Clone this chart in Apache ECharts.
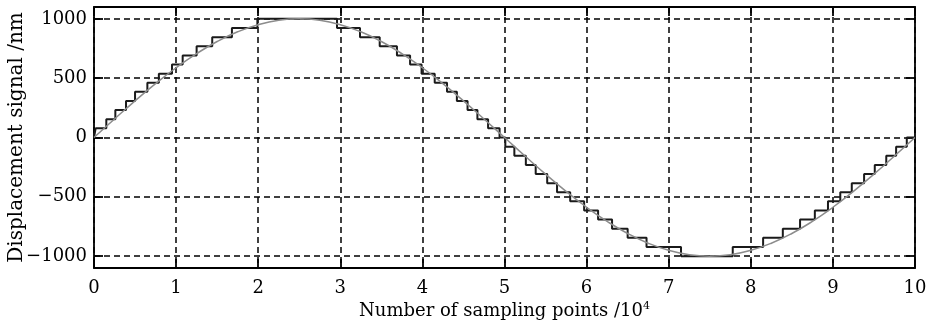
<!DOCTYPE html>
<html>
<head>
<meta charset="utf-8">
<script src="https://cdn.jsdelivr.net/npm/echarts@6/dist/echarts.min.js"></script>
<style>
  html, body { margin: 0; padding: 0; background: #fff; }
  #chart { width: 931px; height: 325px; }
</style>
</head>
<body>
<div id="chart"></div>
<script>
// x positions are in units of 10^4 sampling points
const xTicks = [0, 1, 2, 3, 4, 5, 6, 7, 8, 9, 10];
const yTicks = [-1000, -500, 0, 500, 1000];

// smooth reference signal (gray)
const curveX = [0, 0.25, 0.5, 0.75, 1, 1.25, 1.5, 1.75, 2, 2.25, 2.5, 2.75, 3, 3.25, 3.5, 3.75, 4, 4.25, 4.5, 4.75,
  5, 5.25, 5.5, 5.75, 6, 6.25, 6.5, 6.75, 7, 7.25, 7.5, 7.75, 8, 8.25, 8.5, 8.75, 9, 9.25, 9.5, 9.75, 10];
const curveY = [0, 156, 309, 454, 588, 707, 809, 891, 951, 988, 1000, 988, 951, 891, 809, 707, 588, 454, 309, 156,
  0, -156, -309, -454, -588, -707, -809, -891, -951, -988, -1000, -988, -951, -891, -809, -707, -588, -454, -309, -156, 0];

// quantised staircase (black): level holds from stepX[i] to stepX[i+1]
const stepX = [0, 0.02, 0.15, 0.26, 0.39, 0.50, 0.65, 0.79, 0.95, 1.08, 1.25, 1.44, 1.68, 1.99,
  2.96, 3.24, 3.48, 3.69, 3.85, 3.99, 4.15, 4.30, 4.42, 4.55, 4.67, 4.80, 4.94,
  5.01, 5.12, 5.26, 5.38, 5.52, 5.64, 5.80, 5.97, 6.14, 6.31, 6.50, 6.73, 7.15,
  7.78, 8.15, 8.39, 8.60, 8.78, 8.94, 9.09, 9.23, 9.38, 9.51, 9.65, 9.77, 9.90, 10];
const stepLevel = [0, 77, 154, 231, 308, 385, 462, 538, 615, 692, 769, 846, 923, 1000,
  923, 846, 769, 692, 615, 538, 462, 385, 308, 231, 154, 77, 0,
  -77, -154, -231, -308, -385, -462, -538, -615, -692, -769, -846, -923, -1000,
  -923, -846, -769, -692, -615, -538, -462, -385, -308, -231, -154, -77, 0, 0];

const FONT = "DejaVu Serif";
const INK = "#000";
const GRID_LINE = { color: "#000", type: [6, 4], width: 1.5 };

const chart = echarts.init(document.getElementById("chart"), null, { renderer: "canvas" });

const baseX = {
  type: "value",
  min: 0,
  max: 10,
  interval: 1,
  axisLine: { show: true, onZero: false, lineStyle: { color: INK, width: 1.8 } },
  axisTick: { show: true, inside: true, length: 9, lineStyle: { color: INK, width: 1.8 } },
};
const baseY = {
  type: "value",
  min: -1100,
  max: 1100,
  axisLine: { show: true, onZero: false, lineStyle: { color: INK, width: 1.8 } },
  axisTick: { show: true, inside: true, length: 9, customValues: yTicks, lineStyle: { color: INK, width: 1.8 } },
};

chart.setOption({
  animation: false,
  backgroundColor: "#fff",
  grid: { left: 94, right: 16, top: 7, bottom: 57, containLabel: false, outerBoundsMode: "none" },
  xAxis: [
    {
      ...baseX,
      position: "bottom",
      name: "Number of sampling points /10{sup|4}",
      nameLocation: "middle",
      nameGap: 33,
      nameMoveOverlap: false,
      nameTextStyle: {
        fontFamily: FONT, fontSize: 18, color: INK,
        rich: { sup: { fontFamily: FONT, fontSize: 11, color: INK, verticalAlign: "top", padding: [0, 0, 9, 0] } },
      },
      axisLabel: { fontFamily: FONT, fontSize: 18, color: INK, margin: 11 },
      splitLine: { show: true, lineStyle: GRID_LINE },
    },
    {
      ...baseX,
      position: "top",
      axisLabel: { show: false },
      splitLine: { show: false },
    },
  ],
  yAxis: [
    {
      ...baseY,
      position: "left",
      name: "Displacement signal /nm",
      nameLocation: "middle",
      nameGap: 67,
      nameMoveOverlap: false,
      nameTextStyle: { fontFamily: FONT, fontSize: 20, color: INK },
      axisLabel: { fontFamily: FONT, fontSize: 18, color: INK, margin: 7, customValues: yTicks,
        formatter: (v) => (v < 0 ? "\u2212" + Math.abs(v) : String(v)) },
      splitLine: { show: true, lineStyle: GRID_LINE },
    },
    {
      ...baseY,
      position: "right",
      axisLabel: { show: false },
      splitLine: { show: false },
    },
  ],
  series: [
    {
      name: "Quantised",
      type: "line",
      step: "end",
      data: stepX.map((x, i) => [x, stepLevel[i]]),
      showSymbol: false,
      lineStyle: { color: "#1a1a1a", width: 2 },
      z: 3,
    },
    {
      name: "Signal",
      type: "line",
      smooth: true,
      data: curveX.map((x, i) => [x, curveY[i]]),
      showSymbol: false,
      lineStyle: { color: "#8c8c8c", width: 1.5 },
      z: 4,
    },
  ],
});
</script>
</body>
</html>
